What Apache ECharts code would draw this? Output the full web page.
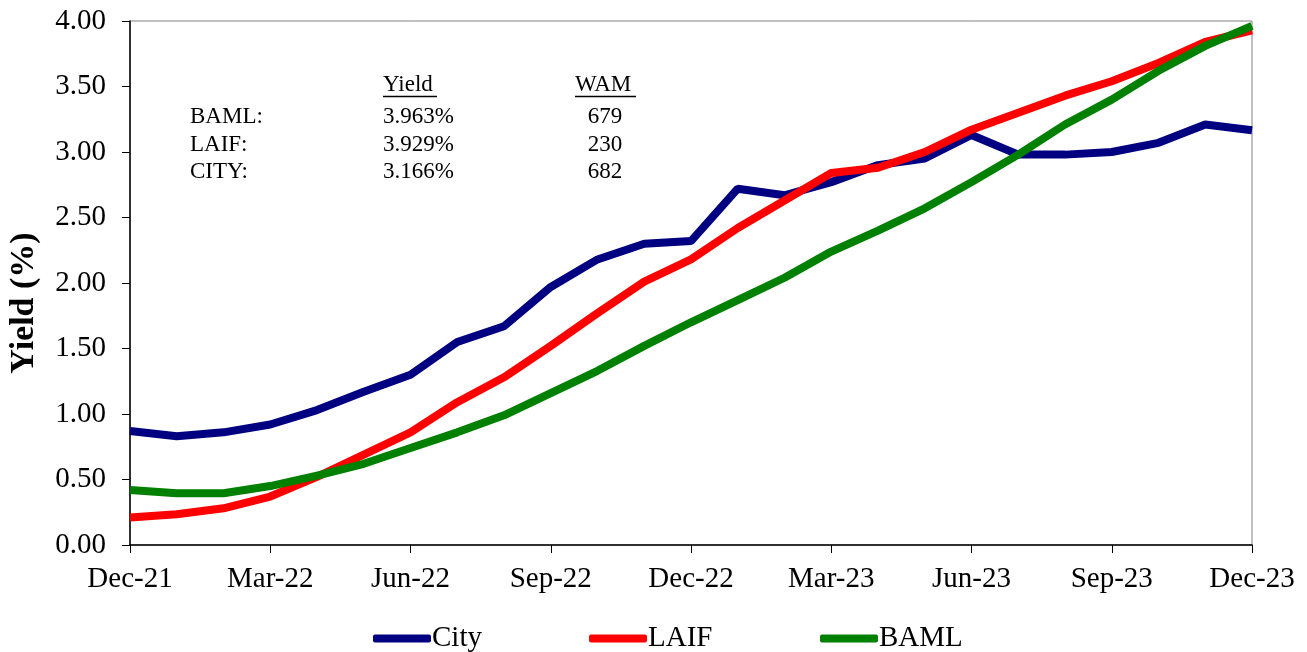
<!DOCTYPE html>
<html>
<head>
<meta charset="utf-8">
<script src="https://cdn.jsdelivr.net/npm/echarts@6/dist/echarts.min.js"></script>
<style>
  html, body { margin: 0; padding: 0; background: #fff; }
  #chart { width: 1307px; height: 652px; }
</style>
</head>
<body>
<div id="chart"></div>
<script>
// months, Dec-21 .. Dec-23
var months = ['Dec-21','Jan-22','Feb-22','Mar-22','Apr-22','May-22','Jun-22','Jul-22','Aug-22','Sep-22','Oct-22','Nov-22',
  'Dec-22','Jan-23','Feb-23','Mar-23','Apr-23','May-23','Jun-23','Jul-23','Aug-23','Sep-23','Oct-23','Nov-23','Dec-23'];

var cityYield = [0.87,0.83,0.86,0.92,1.03,1.17,1.30,1.55,1.67,1.97,2.18,2.30,
  2.32,2.72,2.67,2.77,2.90,2.95,3.13,2.98,2.98,3.00,3.07,3.21,3.166];
var laifYield = [0.21,0.235,0.28,0.37,0.52,0.69,0.86,1.09,1.28,1.52,1.77,2.01,
  2.18,2.42,2.63,2.84,2.88,3.00,3.17,3.30,3.43,3.54,3.68,3.84,3.929];
var bamlYield = [0.42,0.395,0.395,0.45,0.53,0.62,0.74,0.86,0.99,1.16,1.33,1.52,
  1.70,1.87,2.04,2.24,2.40,2.57,2.77,2.98,3.21,3.40,3.62,3.81,3.963];

// summary box
var boxNames = ['BAML:', 'LAIF:', 'CITY:'];
var boxYield = ['3.963%', '3.929%', '3.166%'];
var boxWam = ['679', '230', '682'];

var serif = '"Liberation Serif", "Times New Roman", serif';

function boxText() {
  var out = [];
  var f = '23px ' + serif;
  // y axis title, sits a bit below the middle like the original
  out.push({ type: 'text', x: 24, y: 303, rotation: Math.PI / 2,
    style: { text: 'Yield (%)', font: 'bold 34px ' + serif, fill: '#000', align: 'center', verticalAlign: 'middle' } });
  out.push({ type: 'text', x: 383, y: 85, style: { text: 'Yield', font: f, fill: '#000', verticalAlign: 'middle' } });
  out.push({ type: 'line', shape: { x1: 383, y1: 96.5, x2: 437, y2: 96.5 }, style: { stroke: '#000', lineWidth: 1.5 } });
  out.push({ type: 'text', x: 575, y: 85, style: { text: 'WAM', font: f, fill: '#000', verticalAlign: 'middle' } });
  out.push({ type: 'line', shape: { x1: 575, y1: 96.5, x2: 636, y2: 96.5 }, style: { stroke: '#000', lineWidth: 1.5 } });
  for (var i = 0; i < boxNames.length; i++) {
    var y = 117 + i * 27.5;
    out.push({ type: 'text', x: 190, y: y, style: { text: boxNames[i], font: f, fill: '#000', verticalAlign: 'middle' } });
    out.push({ type: 'text', x: 383, y: y, style: { text: boxYield[i], font: f, fill: '#000', verticalAlign: 'middle' } });
    out.push({ type: 'text', x: 605, y: y, style: { text: boxWam[i], font: f, fill: '#000', verticalAlign: 'middle', align: 'center' } });
  }
  return out;
}

function legendAt(name, left) {
  return {
    data: [name],
    left: left,
    top: 624,
    icon: 'roundRect',
    itemWidth: 58,
    itemHeight: 8,
    itemGap: 0,
    padding: 0,
    textStyle: { fontFamily: serif, fontSize: 29, color: '#000', padding: [0, 0, 0, -4] }
  };
}

var chart = echarts.init(document.getElementById('chart'));
chart.setOption({
  animation: false,
  backgroundColor: '#fff',
  textStyle: { fontFamily: serif },
  grid: {
    left: 130, right: 55, top: 21, bottom: 107,
    show: true, borderColor: '#808080', borderWidth: 1, backgroundColor: 'transparent'
  },
  legend: [legendAt('City', 373), legendAt('LAIF', 589), legendAt('BAML', 820)],
  xAxis: {
    type: 'category',
    data: months,
    boundaryGap: false,
    axisLine: { lineStyle: { color: '#000', width: 1.5 } },
    axisTick: { interval: 2, length: 8, lineStyle: { color: '#000' } },
    axisLabel: { interval: 2, fontFamily: serif, fontSize: 29, color: '#000', margin: 20 },
    splitLine: { show: false }
  },
  yAxis: {
    type: 'value',
    min: 0, max: 4, interval: 0.5,
    axisLine: { show: true, lineStyle: { color: '#000', width: 1.5 } },
    axisTick: { show: true, length: 8, lineStyle: { color: '#000' } },
    axisLabel: {
      fontFamily: serif, fontSize: 29, color: '#000', margin: 24,
      formatter: function (v) { return v.toFixed(2); }
    },
    splitLine: { show: false }
  },
  series: [
    { name: 'City', type: 'line', data: cityYield, showSymbol: false, symbol: 'none', color: '#000080', lineStyle: { width: 8, color: '#000080' } },
    { name: 'LAIF', type: 'line', data: laifYield, showSymbol: false, symbol: 'none', color: '#ff0000', lineStyle: { width: 8, color: '#ff0000' } },
    { name: 'BAML', type: 'line', data: bamlYield, showSymbol: false, symbol: 'none', color: '#008000', lineStyle: { width: 8, color: '#008000' } }
  ],
  graphic: boxText()
});
</script>
</body>
</html>
